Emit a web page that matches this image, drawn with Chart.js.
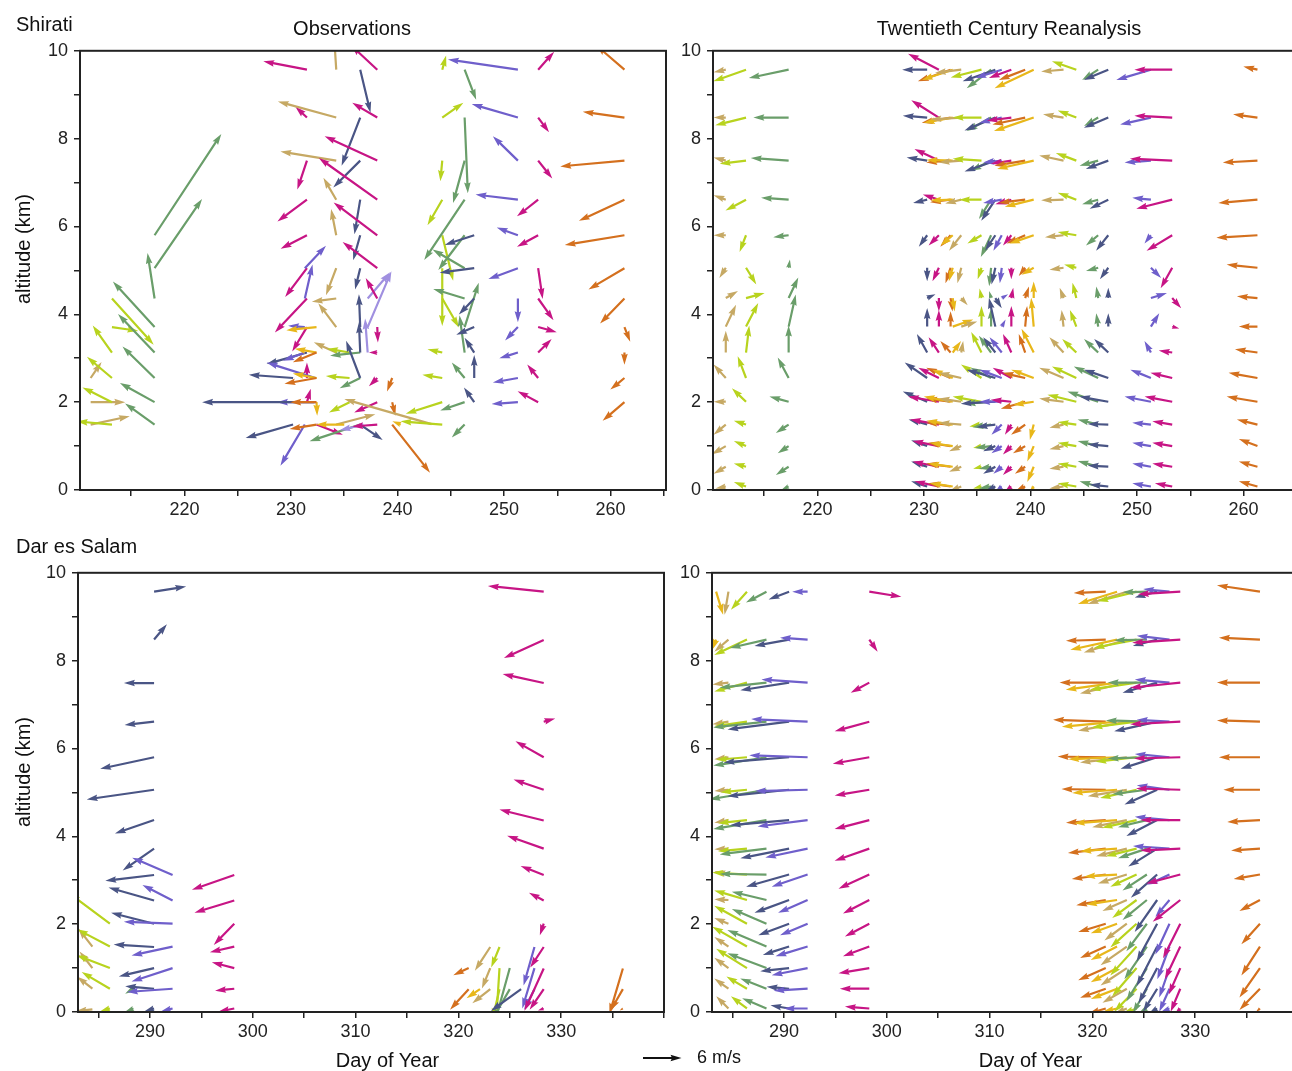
<!DOCTYPE html>
<html><head><meta charset="utf-8">
<script src="https://cdn.jsdelivr.net/npm/chart.js@4.4.1/dist/chart.umd.min.js"></script>
<style>
body{margin:0;width:1292px;height:1071px;overflow:hidden;background:#fff;position:relative;font-family:'Liberation Sans',Arial,sans-serif;color:#111}
canvas{position:absolute}
.t{position:absolute;white-space:nowrap;line-height:1;font-size:20px}
</style></head><body>
<canvas id="tl" width="680" height="506" style="left:0;top:34px"></canvas>
<canvas id="tr" width="680" height="506" style="left:633px;top:34px"></canvas>
<canvas id="bl" width="680" height="506" style="left:0;top:556px"></canvas>
<canvas id="br" width="680" height="506" style="left:632px;top:556px"></canvas>
<canvas id="key" width="60" height="24" style="left:630px;top:1046px"></canvas>

<div class="t" style="left:16px;top:13.5px">Shirati</div>
<div class="t" style="left:152px;top:18px;width:400px;text-align:center">Observations</div>
<div class="t" style="left:809px;top:18px;width:400px;text-align:center">Twentieth Century Reanalysis</div>
<div class="t" style="left:16px;top:535.5px">Dar es Salam</div>
<div class="t" style="left:-77.5px;top:238.8px;width:200px;text-align:center;transform:rotate(-90deg)">altitude (km)</div>
<div class="t" style="left:-77.5px;top:761.5px;width:200px;text-align:center;transform:rotate(-90deg)">altitude (km)</div>
<div class="t" style="left:187.5px;top:1050px;width:400px;text-align:center">Day of Year</div>
<div class="t" style="left:830.5px;top:1050px;width:400px;text-align:center">Day of Year</div>
<div class="t" style="left:697px;top:1048px;font-size:18px">6 m/s</div>

<script>
// ---------- colours of the soundings ----------
const COLORS = {M:'#c71585', B:'#4a5585', P:'#6f5fcb', LP:'#a090e0', T:'#c6a964', L:'#b8d31e', G:'#6a9e6a', O:'#d4701e', Y:'#e8b71a'};
// reanalysis pressure-level altitudes (km)
const LEVELS = [9.57, 8.48, 7.5, 6.61, 5.8, 5.06, 4.37, 3.72, 3.13, 2.55, 2.01, 1.49, 1.0, 0.53, 0.08];
const X_TICKS_SHIRATI = [215,220,225,230,235,240,245,250,255,260,265];
const X_TICKS_DAR = [285,290,295,300,305,310,315,320,325,330,335,340];
const X_LABELS_SHIRATI = [220,230,240,250,260];
const X_LABELS_DAR = [290,300,310,320,330];
const Y_TICKS = [0,1,2,3,4,5,6,7,8,9,10];
const Y_LABELS = [0,2,4,6,8,10];
const KEY_SPEED = 6; // m/s

// ---------- Shirati observations ----------
const obsShiratiDay = [211.2,213.2,217.2,230.2,231.5,231.5,231.3,232.3,232.2,232.4,232.4,232.4,234.25,235.0,235.5,236.5,236.5,236.8,237.2,238.1,239.5,240.3,243.2,244.2,246.3,247.2,251.3,253.2,261.3];
const obsShiratiColor = ['T','L','G','B','M','B','P','P','B','Y','O','M','T','Y','L','G','B','LP','LP','M','O','Y','T','L','G','B','P','M','O'];
const obsShiratiAlt = [
 [2.55,2.0,1.49],
 [4.36,3.71,3.13,2.55,2.0,1.49],
 [5.8,5.05,4.36,3.71,3.13,2.55,2.0,1.49],
 [2.55,1.49],
 [9.57,8.48,7.5,6.61,5.8,5.05,4.36,3.71,2.55,2.0],
 [3.13],
 [5.05,4.36,3.71,3.13,1.49],
 [2.55,2.0],
 [2.0],
 [3.71,3.13,2.55,2.0],
 [3.13,2.55,2.0,1.49],
 [1.49],
 [9.57,8.48,7.5,6.61,5.8,5.05,4.36,3.71,3.13,1.49],
 [1.49],
 [3.13,2.55,2.0],
 [3.13,2.55,1.49],
 [9.57,8.48,7.5,6.61,5.8,5.05,3.71,3.13,2.55,1.49],
 [1.49],
 [4.36,3.71,3.13],
 [9.57,8.48,7.5,6.61,5.8,5.05,4.36,3.71,3.13,2.55,2.0,1.49],
 [2.55,2.0,1.49],
 [1.49],
 [1.5],
 [9.57,8.48,7.5,6.61,5.8,5.05,4.36,3.13,2.55,2.0,1.49],
 [9.57,8.48,7.5,6.61,5.8,5.05,4.36,3.71,3.13,2.55,2.0,1.49],
 [5.8,5.05,4.36,3.71,3.13,2.55,2.0],
 [9.57,8.48,7.5,6.61,5.8,5.05,4.36,3.71,3.13,2.55,2.0],
 [9.57,8.48,7.5,6.61,5.8,5.05,4.36,3.71,3.13,2.55,2.0],
 [9.57,8.48,7.5,6.61,5.8,5.05,4.36,3.71,3.13,2.55,2.0]
];
const obsShiratiU = [
 [1.7,5.4,6.1],
 [6.5,4.1,-3.0,-3.9,-4.6,-5.5],
 [10.4,7.4,-1.1,-6.5,-5.7,-5.0,-5.4,-4.6],
 [-6.9,-7.4],
 [-6.8,-1.8,-1.5,-4.6,-4.1,-3.4,-5.0,-2.3,0,0.6],
 [-6.3],
 [3.3,1.2,-2.6,-3.4,-3.8],
 [-7.6,-6.0],
 [-17.5],
 [-4.7,-3.4,-3.7,0.1],
 [-3.7,-5.0,-4.1,-4.2],
 [4.1],
 [-0.3,-9.1,-8.7,-2.0,-0.8,-1.6,-3.8,-2.8,-3.5,6.1],
 [-4.4],
 [-3.5,-3.7,-3.2],
 [-4.7,-3.2,-7.9],
 [1.6,-2.9,-4.2,-0.9,-1.1,-0.8,-0.2,-0.2,-2.2,3.5],
 [-3.7],
 [3.5,3.7,-0.4],
 [-4.1,-3.9,-8.2,-9.1,-6.8,-5.4,-1.8,0.1,-1.3,-1.3,-3.6,-3.9],
 [-0.8,0.5,5.9],
 [-1.3],
 [-13.6],
 [0.6,3.3,-0.3,-2.3,1.7,0,2.6,-2.3,-3.1,-5.7,-6.5],
 [1.8,0.5,-1.8,-6.3,-4.1,-5.0,-4.9,2.2,-0.8,-2.0,-3.8,-2.0],
 [-4.6,-5.4,-2.4,-2.8,-1.5,0,-1.6],
 [-10.9,-7.2,-3.9,-6.6,-3.3,-4.6,0,-2.0,-2.9,-3.9,-4.1],
 [2.5,1.7,2.2,-3.3,-3.3,0.7,2.4,2.9,2.1,-1.7,-3.2],
 [-4.4,-6.5,-10.0,-7.1,-9.3,-5.6,-3.8,0.9,0,-2.2,-3.4]
];
const obsShiratiV = [
 [2.5,0,1.3],
 [-7.2,-0.6,4.2,3.3,2.3,0.5],
 [15.8,10.8,7.1,7.1,6.0,4.9,3.0,3.3],
 [0.5,-2.1],
 [1.3,1.7,-4.5,-3.4,-2.1,-4.5,-5.3,-3.8,2.4,2.1],
 [-1.8],
 [3.5,5.3,0.2,-1.3,-6.4],
 [2.4,0],
 [0],
 [-0.5,0.6,0.7,-2.1],
 [-1.5,-0.9,0,-0.7],
 [-1.6],
 [4.7,2.5,1.4,3.4,4.1,-4.2,-0.5,3.7,1.6,1.6],
 [0],
 [0.6,0.3,-1.6],
 [-0.5,-1.6,-2.6],
 [-6.7,-7.5,-4.2,-5.4,-3.9,-3.3,5.1,4.7,5.8,-2.4],
 [-0.9],
 [4.1,8.7,5.3],
 [3.8,2.3,3.8,6.5,5.1,4.1,3.2,-2.4,0,-1.3,-1.6,-0.3],
 [-2.1,-2.1,-7.5],
 [0.5],
 [3.9],
 [2.2,2.3,-3.2,-4.0,-7.1,-9.0,-4.5,0.5,0.5,-1.8,0.5],
 [-4.7,-11.8,-6.6,-9.4,-5.4,2.9,1.5,6.9,5.8,2.4,-1.3,-2.0],
 [-1.5,-0.7,-2.5,-1.2,2.3,3.6,2.3],
 [1.6,2.1,3.8,0.8,1.2,-1.7,-3.7,-2.1,-0.9,-0.7,-0.3],
 [2.8,-2.3,-2.8,-2.6,-1.8,-4.8,-3.4,-0.8,2.1,2.1,1.7],
 [3.8,0.9,-0.9,-3.3,-1.5,-3.3,-3.9,-2.3,-1.9,-1.8,-2.9]
];

// ---------- Shirati reanalysis (one column per sounding, values at LEVELS) ----------
const reShiratiDay = [211.4,213.3,217.3,230.3,231.4,232.5,232.7,233.5,235.4,236.3,236.7,237.3,238.2,239.5,240.3,243.1,244.3,246.35,247.3,251.3,253.3,261.3];
const reShiratiColor = ['T','L','G','B','M','O','Y','T','L','G','B','P','M','O','Y','T','L','G','B','P','M','O'];
const reShiratiU = [
 [-1.9,-1.9,-1.9,-1.9,-1.9,-1.0,1.9,1.6,0,-1.9,-1.9,-1.9,-2.2,-1.9,-1.6],
 [-5.1,-4.8,-4.1,-3.2,-1.0,1.6,2.9,1.9,0.5,-1.3,-2.2,-1.9,-1.9,-1.9,-1.9],
 [-6.2,-5.5,-5.9,-4.3,-2.4,0.2,1.5,1.1,0,-1.7,-3.0,-2.0,-1.7,-2.0,-1.1],
 [-3.9,-3.8,-3.2,-2.2,-1.3,0,1.3,0,-1.6,-3.5,-3.8,-2.9,-2.5,-2.5,-2.5],
 [-4.8,-4.3,-3.8,-2.5,-1.6,-1.0,0,0,-1.6,-3.2,-4.8,-4.5,-4.1,-4.1,-3.8],
 [-5.1,-4.5,-3.8,-3.2,-1.6,-0.8,0.3,0,-1.6,-3.8,-3.8,-3.8,-3.5,-3.8,-3.5],
 [-4.8,-4.5,-4.1,-3.5,-1.9,-0.6,0.3,3.2,1.3,-3.2,-4.5,-4.1,-3.5,-3.8,-3.5],
 [-4.1,-4.8,-3.5,-2.5,-1.9,-0.6,1.0,2.5,0.3,-3.5,-3.5,-3.5,-1.9,-1.9,-1.9],
 [-4.8,-4.5,-4.5,-3.5,-2.2,-0.6,-0.3,0,-1.6,-3.2,-4.5,-1.9,-1.3,-1.3,-1.3],
 [-3.8,-3.8,-3.2,-1.9,-1.6,-0.3,-0.3,0,-1.9,-3.2,-4.1,-2.9,-2.5,-1.9,-1.9],
 [-5.1,-4.8,-4.8,-2.2,-1.6,-0.6,1.0,-1.0,-1.9,-4.5,-5.4,-2.9,-1.9,-1.9,-1.6],
 [-4.1,-3.5,-2.9,-2.9,-1.3,-0.3,1.0,0.6,-1.9,-3.5,-3.5,-1.6,-1.6,-1.3,-1.0],
 [-3.5,-3.8,-3.2,-2.5,-1.3,0,0.3,0,-1.3,-2.9,-3.2,-1.0,-1.3,-1.3,-1.0],
 [-4.1,-5.1,-4.8,-4.1,-2.9,-1.0,0.6,0.3,-1.0,-3.5,-3.8,-2.2,-1.9,-1.6,-1.6],
 [-6.1,-6.2,-5.7,-4.5,-3.8,-1.9,0,-0.4,-1.9,-3.5,-3.2,-0.6,-1.0,-1.0,-0.6],
 [-3.5,-3.2,-3.8,-3.5,-2.9,-2.2,-0.6,-0.3,-2.2,-3.8,-3.8,-2.2,-2.2,-2.2,-2.2],
 [-3.8,-2.9,-3.2,-2.9,-2.9,-1.9,-0.6,-1.0,-2.2,-3.8,-4.5,-2.9,-2.9,-2.9,-2.9],
 [-2.5,-2.2,-2.9,-2.5,-1.9,-1.9,-0.3,-0.3,-2.2,-3.8,-4.8,-3.2,-3.2,-3.2,-2.9],
 [-3.8,-3.8,-3.5,-2.9,-1.9,-1.3,0,0,-2.2,-3.8,-4.5,-3.2,-3.2,-3.2,-2.9],
 [-5.4,-4.8,-4.1,-2.9,-1.0,1.6,2.5,1.3,-1.0,-3.2,-4.1,-2.9,-2.9,-2.9,-2.9],
 [-5.9,-5.9,-6.6,-5.6,-4.0,-1.8,1.4,1.1,-2.1,-3.4,-4.3,-3.1,-3.1,-3.1,-2.7],
 [-2.2,-3.8,-5.4,-6.1,-6.4,-4.8,-3.2,-2.9,-3.5,-4.5,-4.8,-3.2,-2.9,-2.9,-2.9]
];
const reShiratiV = [
 [-0.4,0,0.5,0.7,0,-1.6,1.1,3.4,3.4,2.1,0,-1.6,-1.3,-1.1,-0.3],
 [-1.8,-1.2,-0.5,-1.7,-2.6,-2.6,0.8,3.7,4.2,3.4,2.1,0.6,0.8,0.5,0.7],
 [-1.3,0,0.4,0.3,-0.3,1.3,3.2,5.0,4.2,3.2,0.8,-1.3,-1.1,-1.3,-0.5],
 [0,0.3,0.5,-0.5,-1.8,-2.1,0.6,2.9,2.9,2.4,1.6,0.8,0.9,0.8,0.8],
 [2.5,2.7,1.8,0.8,-1.6,-2.1,-2.1,2.6,2.4,1.6,0.8,0.8,0.8,0.8,0.8],
 [-1.8,-0.8,-0.3,-0.4,-1.8,-2.4,-2.1,2.4,1.8,1.6,0.5,0.3,0.5,0.5,0.5],
 [-1.6,-0.8,0.1,-0.1,-1.6,-2.1,-2.1,1.1,1.8,1.3,0.8,0.6,0.5,0.5,0.5],
 [-0.5,-0.3,-0.3,-0.6,-2.4,-2.4,-1.1,0.8,1.8,0.8,0.5,0.3,-0.8,-0.8,-0.8],
 [-1.2,0,0.3,0,-1.3,-1.8,1.5,3.2,3.2,2.1,0.8,-0.3,-0.3,-0.3,-0.3],
 [-2.9,-2.1,-1.6,-3.0,-3.4,-2.9,1.1,2.9,2.6,1.6,-0.3,-0.4,-0.3,-0.3,-0.3],
 [-1.8,-2.0,-1.7,-3.3,-2.4,-2.6,-1.6,4.5,2.4,1.3,-0.3,-0.4,-0.8,-1.1,-0.8],
 [-1.3,-0.8,-0.3,-0.5,-2.4,-2.4,0.6,1.1,2.4,1.3,0,-1.6,-1.1,-1.1,-0.8],
 [-1.3,-0.5,-0.5,-0.7,-1.6,-1.8,1.6,3.2,2.9,1.6,0.3,-1.6,-1.3,-1.3,-0.8],
 [-1.6,-1.1,-0.8,-0.5,-1.3,-1.3,1.8,3.2,2.9,0.8,-1.1,-1.6,-1.1,-1.1,-0.8],
 [-2.9,-2.1,-1.3,-1.1,-1.3,-1.1,2.6,4.5,3.7,1.3,-0.5,-2.4,-2.4,-2.4,-0.8],
 [-0.3,0.5,0.8,-0.1,-0.3,-0.3,1.6,2.6,2.4,1.6,0.5,-0.5,-0.5,-0.3,-0.3],
 [1.3,1.1,1.2,1.1,0.5,0.5,2.4,2.6,2.1,1.8,1.1,0.4,0.5,0.5,0.5],
 [-1.6,-1.3,-0.8,-0.7,-1.6,-0.5,1.8,2.1,2.1,1.8,1.6,0.8,0.8,0.9,0.8],
 [-1.6,-1.6,-1.3,-1.4,-2.4,-1.8,1.6,2.1,2.1,1.3,0.8,0.1,0.3,0.2,0.3],
 [-1.6,-1.1,-0.3,0.3,-1.3,-1.6,0.8,2.1,1.8,1.3,0.8,0.3,0.5,0.5,0.5],
 [0,0.3,0.3,-1.4,-2.4,-3.2,-1.6,-0.3,0.3,0.8,0.8,0.5,0.5,0.5,0.5],
 [0.5,0.5,-0.3,-0.5,-0.4,0.5,0.3,0,0.5,0.8,0.8,0.8,1.1,0.8,0.8]
];

// ---------- Dar es Salam observations ----------
const obsDarDay = [284.4,286.1,288.4,290.4,292.2,298.2,321.0,322.1,323.1,324.0,325.0,326.1,327.4,328.3,336.0];
const obsDarColor = ['T','L','G','B','P','M','O','Y','T','L','G','B','P','M','O'];
const obsDarAlt = [
 [1.49,1.0,0.53,0.06],
 [2.01,1.49,1.0,0.53,0.08],
 [0.53,0.08],
 [9.57,8.48,7.49,6.61,5.8,5.06,4.37,3.72,3.12,2.54,2.01,1.48,1.0,0.53,0.08],
 [3.12,2.54,2.01,1.49,1.0,0.53,0.08],
 [3.12,2.54,2.01,1.49,1.0,0.53,0.08],
 [1.0,0.52],
 [0.52],
 [1.48,1.0,0.52],
 [1.48,1.0,0.52],
 [1.0,0.52],
 [0.52],
 [1.48,1.0,0.52],
 [9.57,8.47,7.49,6.61,5.8,5.06,4.36,3.72,3.12,2.54,2.01,1.48,0.99,0.52,0.08],
 [0.99,0.52,0.08]
];
const obsDarU = [
 [-2.2,-2.0,-2.4,-2.6],
 [-6.3,-5.1,-5.2,-4.4,-1.6],
 [-1.3,-1.3],
 [5.0,2.0,-4.7,-4.6,-8.4,-10.5,-6.1,-4.9,-7.6,-7.1,-6.7,-6.3,-5.5,-4.5,-1.6],
 [-6.3,-4.7,-7.6,-6.4,-6.4,-7.1,-1.9],
 [-6.6,-6.2,-3.2,-3.8,-3.5,-3.0,-2.5],
 [-2.4,-2.9],
 [-2.1],
 [-2.4,-1.3,-2.8],
 [-1.3,-0.6,-1.1],
 [-2.4,-2.7],
 [-4.7],
 [-1.7,-1.9,-1.6],
 [-8.7,-6.2,-6.4,1.8,-4.4,-4.7,-6.9,-5.7,-3.6,-2.3,-0.6,-2.1,-3.0,-2.2,-0.9],
 [-2.1,-1.9,-0.5]
];
const obsDarV = [
 [2.8,2.6,1.9,-0.3],
 [4.7,2.7,2.0,2.6,-0.5],
 [-0.8,-0.5],
 [0.8,2.4,0,-0.5,-1.8,-1.5,-2.1,-3.4,-0.9,2.0,1.7,0.4,-1.3,0.4,-0.5],
 [2.7,2.4,0.3,-1.4,-2.1,-0.5,-0.5],
 [-2.3,-1.9,-3.3,-0.9,0.9,-0.3,-0.5],
 [-1.1,-3.2],
 [-1.4],
 [-3.7,-3.2,-2.2],
 [-3.2,-9.5,-4.7],
 [-8.7,-4.7],
 [-3.4],
 [-6.0,-6.3,-3.2],
 [0.9,-2.8,1.4,0.5,2.5,1.6,1.7,2.0,1.4,1.2,-1.8,-3.2,-6.6,-3.2,-0.3],
 [-7.1,-3.3,-0.3]
];

// ---------- Dar es Salam reanalysis ----------
const reDarDay = [283.4,284.6,286.4,288.3,290.5,292.3,298.3,321.3,322.4,323.35,324.3,325.3,326.3,327.5,328.55,336.3];
const reDarColor = ['Y','T','L','G','B','P','M','O','Y','T','L','G','B','P','M','O'];
const reDarU = [
 [1.1,-0.6],
 [-0.6,-2.2,-2.5,-2.5,-2.2,-2.2,-2.2,-2.2,-2.2,-2.2,-2.2,-2.2,-2.2,-2.2,-1.9],
 [-2.5,-5.1,-5.1,-5.1,-4.8,-4.1,-4.5,-4.5,-5.4,-5.1,-5.1,-5.4,-4.8,-3.2,-2.5],
 [-3.2,-5.7,-7.3,-8.3,-8.3,-8.9,-8.3,-7.3,-7.3,-5.4,-5.4,-6.1,-6.1,-4.1,-3.8],
 [-3.2,-5.4,-7.6,-9.6,-10.2,-9.6,-9.2,-7.6,-6.7,-5.4,-4.8,-4.1,-4.5,-3.5,-2.9],
 [-2.4,-4.3,-7.2,-8.8,-9.1,-8.2,-7.8,-6.6,-5.6,-4.6,-4.3,-5.0,-5.6,-5.3,-3.7],
 [5.0,1.3,-2.9,-5.4,-5.7,-5.4,-5.4,-5.4,-4.8,-4.1,-3.8,-4.1,-4.8,-4.6,-3.8],
 [-5.0,-6.2,-7.2,-8.2,-7.5,-6.9,-6.2,-5.9,-5.3,-4.6,-4.3,-4.0,-4.3,-4.0,-2.7],
 [-6.1,-7.3,-8.0,-8.6,-7.6,-7.0,-6.7,-5.7,-5.1,-4.8,-4.1,-4.1,-4.1,-4.1,-2.2],
 [-6.1,-6.7,-7.3,-7.6,-7.3,-6.1,-5.4,-4.8,-4.5,-3.8,-3.5,-4.1,-4.1,-3.8,-1.9],
 [-6.1,-6.7,-7.3,-7.0,-6.4,-5.7,-5.4,-4.8,-4.1,-3.8,-4.1,-4.1,-3.8,-3.5,-2.2],
 [-3.8,-5.1,-6.1,-6.4,-6.1,-5.4,-4.5,-4.5,-3.8,-3.8,-3.2,-3.5,-3.2,-2.2,-1.3],
 [-3.5,-3.8,-5.4,-6.7,-5.7,-5.1,-4.8,-4.5,-4.1,-3.5,-3.2,-3.2,-2.9,-2.2,-1.3],
 [-4.1,-5.1,-5.4,-5.1,-5.4,-5.1,-5.4,-5.7,-3.5,-2.2,-2.2,-1.9,-1.6,-1.6,-1.3],
 [-6.6,-7.5,-7.8,-7.8,-7.2,-6.9,-6.2,-6.2,-5.3,-4.3,-2.7,-2.4,-1.8,-1.5,-0.8],
 [-6.7,-6.4,-6.7,-6.7,-6.4,-5.7,-5.1,-4.5,-4.1,-3.2,-2.9,-2.9,-3.2,-3.2,-0.6]
];
const reDarV = [
 [-3.6,-1.6],
 [-3.6,-1.9,-0.3,-0.4,-0.3,-0.2,-0.4,-0.1,0.5,0.1,0.9,1.5,1.6,1.6,1.9],
 [-2.8,-2.4,-1.4,-0.7,-0.4,-0.4,-0.5,-0.4,0.3,1.5,2.8,3.1,3.0,1.9,1.9],
 [-1.7,-1.3,-0.8,-0.9,-1.3,-1.5,-1.4,-0.9,0.1,1.3,2.3,2.6,2.3,1.6,1.6],
 [-1.2,-1.0,-1.2,-1.2,-0.8,-1.0,-0.8,-1.5,-1.9,-2.0,-1.8,-1.3,-0.5,0.3,0.5],
 [0,0.3,0.5,0.4,0.3,-0.2,-1.0,-1.4,-1.9,-2.0,-1.8,-1.5,-1.1,-0.3,0],
 [-0.8,-1.9,-1.6,-1.5,-1.0,-0.9,-1.4,-1.9,-2.2,-2.1,-2.0,-1.5,-0.8,0,0.3],
 [-0.2,-0.2,0,0.3,0.1,0.1,-0.4,-0.7,-0.7,-0.8,-1.3,-1.8,-1.9,-1.4,-0.8],
 [-1.9,-1.6,-1.1,-0.8,-0.3,-0.5,-0.5,-0.4,-0.3,-0.7,-1.5,-2.1,-2.2,-1.6,-0.5],
 [-1.9,-2.0,-1.7,-1.4,-0.8,-1.0,-1.1,-1.2,-1.4,-1.7,-2.6,-2.9,-2.7,-2.2,-0.8],
 [-1.5,-1.3,-1.1,-0.9,-0.7,-1.3,-1.2,-1.2,-1.9,-2.8,-3.7,-4.5,-4.4,-3.6,-0.8],
 [-0.1,-0.1,0,0.2,-0.2,-0.7,-1.1,-1.5,-2.5,-3.1,-4.3,-5.1,-5.2,-3.8,-0.8],
 [-0.9,-1.0,-1.6,-1.5,-1.8,-2.3,-2.5,-2.8,-3.6,-5.0,-5.9,-6.2,-5.5,-3.6,-0.8],
 [0.4,0.6,0.5,0.3,0.5,0.7,0.5,0.4,-1.6,-2.6,-4.8,-5.1,-4.6,-3.6,-0.5],
 [-0.4,-0.5,-0.8,-0.4,-0.2,0.2,0,-0.3,-1.4,-3.4,-5.4,-5.1,-4.1,-3.6,-0.8],
 [1.0,0.3,0,0.2,0,0,-0.3,-0.3,-0.7,-1.7,-3.2,-4.5,-4.6,-3.3,-0.5]
];

// ---------- drawing ----------
const PX_PER_MS = 38.5 / 6;   // screen length of 1 m/s
const SHAFT = 2.2;

function drawArrow(ctx, x0, y0, dx, dy, color) {
  const L = Math.hypot(dx, dy);
  if (L < 0.6) return;
  let hl = 5 * SHAFT, hal = 4.5 * SHAFT, hw = 1.5 * SHAFT, sw = SHAFT / 2;
  if (L < hl) { const k = L / hl; hl *= k; hal *= k; hw *= k; sw *= k; }
  const ux = dx / L, uy = dy / L, nx = -uy, ny = ux;
  const P = (a, b) => [x0 + ux * a + nx * b, y0 + uy * a + ny * b];
  const pts = [P(0, -sw), P(L - hal, -sw), P(L - hl, -hw), P(L, 0), P(L - hl, hw), P(L - hal, sw), P(0, sw)];
  ctx.beginPath();
  ctx.moveTo(pts[0][0], pts[0][1]);
  for (let i = 1; i < pts.length; i++) ctx.lineTo(pts[i][0], pts[i][1]);
  ctx.closePath();
  ctx.fillStyle = color;
  ctx.fill();
}

function quiver(days, colors, alts, us, vs) {
  return {
    id: 'quiver',
    afterDatasetsDraw(chart) {
      const { ctx, chartArea: a, scales: { x, y } } = chart;
      ctx.save();
      ctx.beginPath(); ctx.rect(a.left, a.top, a.right - a.left, a.bottom - a.top); ctx.clip();
      for (let i = 0; i < days.length; i++) {
        const px = x.getPixelForValue(days[i]);
        for (let j = 0; j < us[i].length; j++) {
          const py = y.getPixelForValue(alts[i][j]);
          drawArrow(ctx, px, py, us[i][j] * PX_PER_MS, -vs[i][j] * PX_PER_MS, COLORS[colors[i]]);
        }
      }
      ctx.restore();
      ctx.save();
      ctx.strokeStyle = '#222'; ctx.lineWidth = 2;
      ctx.strokeRect(a.left, a.top, a.right - a.left, a.bottom - a.top);
      ctx.restore();
    }
  };
}

function tails(days, alts) {
  const pts = [];
  days.forEach((d, i) => alts[i].forEach(h => pts.push({ x: d, y: h })));
  return pts;
}

const tickFont = { family: 'Liberation Sans', size: 18 };
function makePanel(id, xmin, xmax, xticks, xlabels, yWidth, padRight, days, colors, alts, us, vs) {
  return new Chart(document.getElementById(id), {
    type: 'scatter',
    data: { datasets: [{ data: tails(days, alts), pointRadius: 0, pointHoverRadius: 0 }] },
    options: {
      responsive: false, animation: false, devicePixelRatio: 1, events: [],
      layout: { padding: { left: 0, top: 12, right: padRight, bottom: 0 } },
      plugins: { legend: { display: false }, tooltip: { enabled: false } },
      scales: {
        x: {
          type: 'linear', min: xmin, max: xmax,
          afterBuildTicks: s => { s.ticks = xticks.map(v => ({ value: v })); },
          afterFit: s => { s.height = 50; },
          ticks: { autoSkip: false, maxRotation: 0, padding: 3, color: '#222', font: tickFont,
                   callback: v => (xlabels.includes(v) ? String(v) : '') },
          grid: { drawOnChartArea: false, drawTicks: true, tickLength: 6, color: '#222', lineWidth: 1.5 },
          border: { display: true, color: '#222', width: 2 }
        },
        y: {
          type: 'linear', min: 0, max: 10,
          afterBuildTicks: s => { s.ticks = Y_TICKS.map(v => ({ value: v })); },
          afterFit: s => { s.width = yWidth; },
          ticks: { autoSkip: false, padding: 6, color: '#222', font: tickFont,
                   callback: v => (Y_LABELS.includes(v) ? String(v) : '') },
          grid: { drawOnChartArea: false, drawTicks: true, tickLength: 6, color: '#222', lineWidth: 1.5 },
          border: { display: true, color: '#222', width: 2 }
        }
      }
    },
    plugins: [quiver(days, colors, alts, us, vs)]
  });
}

makePanel('tl', 210.2, 265.2, X_TICKS_SHIRATI, X_LABELS_SHIRATI, 80, 14, obsShiratiDay, obsShiratiColor, obsShiratiAlt, obsShiratiU, obsShiratiV);
makePanel('tr', 210.2, 265.2, X_TICKS_SHIRATI, X_LABELS_SHIRATI, 80, 14, reShiratiDay, reShiratiColor, reShiratiDay.map(() => LEVELS), reShiratiU, reShiratiV);
makePanel('bl', 283, 340, X_TICKS_DAR, X_LABELS_DAR, 78, 16, obsDarDay, obsDarColor, obsDarAlt, obsDarU, obsDarV);
makePanel('br', 283, 340, X_TICKS_DAR, X_LABELS_DAR, 80, 14, reDarDay, reDarColor, reDarDay.map(() => LEVELS), reDarU, reDarV);

// key arrow (6 m/s)
(function () {
  const k = document.getElementById('key').getContext('2d');
  drawArrow(k, 13, 12, KEY_SPEED * PX_PER_MS, 0, '#111');
})();
</script>
</body></html>
